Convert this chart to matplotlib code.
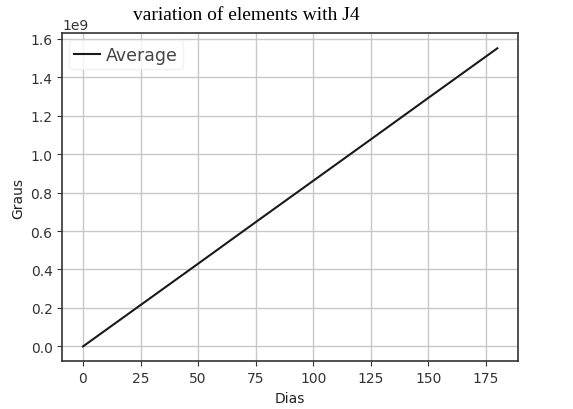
import matplotlib
matplotlib.use("Agg")
import matplotlib.pyplot as plt

days = [0, 25, 50, 75, 100, 125, 150, 175, 180]
average = [0.0, 0.215e9, 0.43e9, 0.646e9, 0.861e9, 1.076e9, 1.292e9, 1.507e9, 1.55e9]
xticks = [0, 25, 50, 75, 100, 125, 150, 175]

fig = plt.figure(figsize=(5.73, 4.10), dpi=100)
ax = fig.add_axes([0.1087, 0.1163, 0.7953, 0.7997])
ax.plot(days, average, color="#1a1a1a", lw=1.5, label="Average")
ax.set_xticks(xticks)
ax.set_yticks([0, 0.2e9, 0.4e9, 0.6e9, 0.8e9, 1.0e9, 1.2e9, 1.4e9, 1.6e9])
ax.grid(True, color="#c8c8c8", lw=1.0)
ax.set_axisbelow(True)
for s in ax.spines.values():
    s.set_color("#333333")
    s.set_linewidth(1.2)
ax.tick_params(colors="#333333", labelsize=10)
ax.set_xlabel("Dias", fontsize=10, color="#222222")
ax.set_ylabel("Graus", fontsize=10, color="#222222")
leg = ax.legend(loc="upper left", fontsize=12.5, frameon=True, fancybox=True,
                handlelength=1.5, handletextpad=0.3, borderpad=0.3,
                borderaxespad=0.4)
leg.get_frame().set_edgecolor("#eeeeee")
for t in leg.get_texts():
    t.set_color("#444444")
fig.text(0.429, 0.962, "variation of elements with J4", ha="center", va="center",
         fontsize=14, family="Liberation Serif", color="black")
fig.savefig("out.png", dpi=100)
